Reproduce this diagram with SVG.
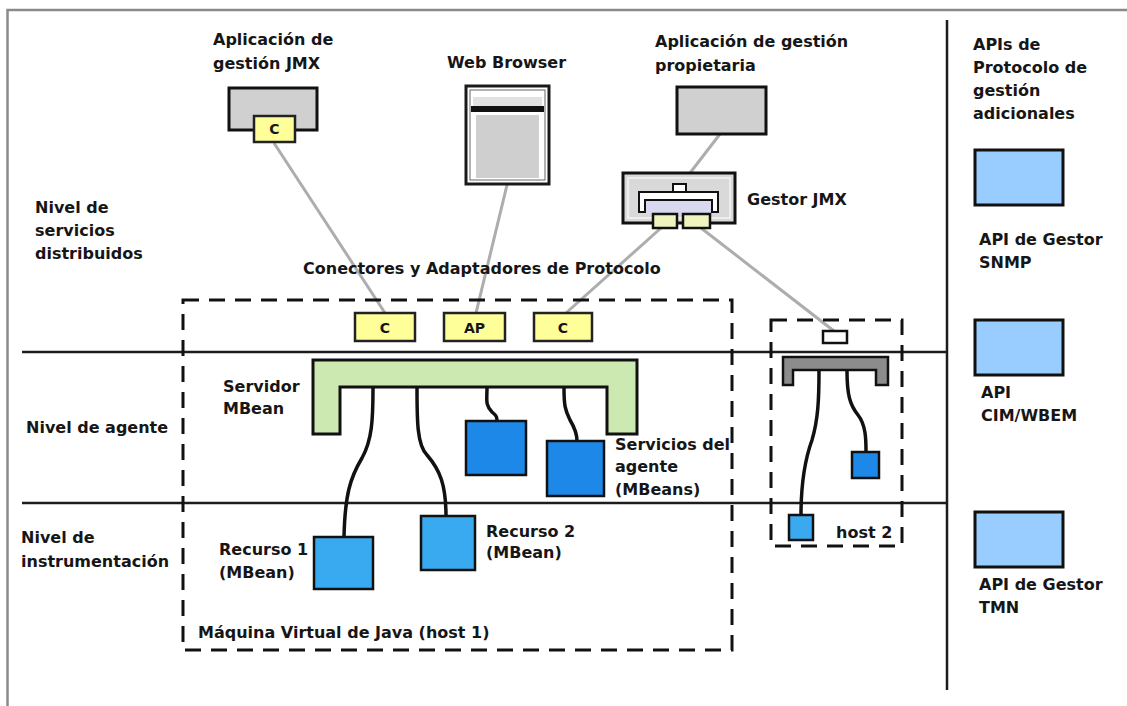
<svg xmlns="http://www.w3.org/2000/svg" width="1127" height="706" viewBox="0 0 1127 706">
  <style>
    text { font-family: "DejaVu Sans", "Liberation Sans", sans-serif; font-weight: bold; font-size: 16px; fill: #161616; }
    .frame { stroke: #8a8a8a; stroke-width: 2.5; fill: none; }
    .level { stroke: #1c1c1c; stroke-width: 2.5; fill: none; }
    .host { stroke: #111; stroke-width: 3; fill: none; stroke-dasharray: 16 10; }
    .app { fill: #d0d0d0; stroke: #111; stroke-width: 3; }
    .conn { fill: #ffff99; stroke: #222; stroke-width: 2.5; }
    .svc { fill: #1e88e8; stroke: #111; stroke-width: 2.5; }
    .res { fill: #3aaaf0; stroke: #111; stroke-width: 2.5; }
    .api { fill: #99ccff; stroke: #111; stroke-width: 3; }
    .link { stroke: #adadad; stroke-width: 3; fill: none; }
    .wire { stroke: #111; stroke-width: 3.5; fill: none; stroke-linecap: round; }
    .boxlabel { font-size: 14px; text-anchor: middle; }
  </style>

  <!-- page frame -->
  <path class="frame" d="M7.5,706 V10 H1127"/>

  <!-- level separators and API column divider -->
  <g id="levels">
    <line class="level" x1="22" y1="352" x2="947" y2="352"/>
    <line class="level" x1="22" y1="503" x2="947" y2="503"/>
    <line class="level" x1="947" y1="20" x2="947" y2="690"/>
    <text x="35" y="213">Nivel de</text>
    <text x="35" y="236">servicios</text>
    <text x="35" y="259">distribuidos</text>
    <text x="26" y="433">Nivel de agente</text>
    <text x="21" y="543">Nivel de</text>
    <text x="21" y="567">instrumentación</text>
  </g>

  <!-- connectors -->
  <g id="connectors">
    <path class="link" d="M274,143 L385,313"/>
    <path class="link" d="M507,185 L476,313"/>
    <path class="link" d="M720,134 L690,173"/>
    <path class="link" d="M661,228 L566,313"/>
    <path class="link" d="M701,228 L834,331"/>
    <path class="wire" d="M373,388 C373,420 372,440 362,458 C350,478 345,495 344,537"/>
    <path class="wire" d="M417,388 C417,420 417,445 427,455 C440,470 446,485 446,516"/>
    <path class="wire" d="M487,388 C487,400 485,405 492,412 C497,416 497,418 497,421"/>
    <path class="wire" d="M564,388 C564,405 565,410 570,420 C576,430 577,436 577,441"/>
    <path class="wire" d="M819,371 C819,400 818,420 812,440 C803,465 801,490 801,515"/>
    <path class="wire" d="M847,371 C847,395 850,405 858,415 C866,425 866,440 866,452"/>
  </g>

  <!-- JMX management application -->
  <g id="jmx-app">
    <text x="213" y="45">Aplicación de</text>
    <text x="213" y="69">gestión JMX</text>
    <rect class="app" x="229" y="88" width="88" height="42"/>
    <rect class="conn" x="254" y="116" width="41" height="26"/>
    <text class="boxlabel" x="274.5" y="134">C</text>
  </g>

  <!-- web browser -->
  <g id="web-browser">
    <text x="447" y="68">Web Browser</text>
    <rect x="466" y="86" width="83" height="98" fill="#fff" stroke="#1a1a1a" stroke-width="3"/>
    <rect x="470" y="90" width="75" height="90" fill="none" stroke="#666" stroke-width="1"/>
    <rect x="473" y="97" width="69" height="9" fill="#e2e2e2"/>
    <rect x="471" y="106" width="73" height="6" fill="#111"/>
    <rect x="476" y="115" width="63" height="63" fill="#cfcfcf"/>
  </g>

  <!-- proprietary management application -->
  <g id="prop-app">
    <text x="655" y="47">Aplicación de gestión</text>
    <text x="655" y="71">propietaria</text>
    <rect class="app" x="677" y="87" width="89" height="47"/>
  </g>

  <!-- JMX manager -->
  <g id="jmx-manager">
    <rect x="623" y="173" width="112" height="50" fill="#d9d9d9" stroke="#111" stroke-width="3"/>
    <rect x="628" y="178" width="102" height="40" fill="none" stroke="#f4f4f4" stroke-width="1.5"/>
    <rect x="646" y="200" width="65" height="14" fill="#d8d8ee"/>
    <path d="M639,192 H718 V212 H712 V200 H645 V212 H639 Z" fill="#fff" stroke="#111" stroke-width="2"/>
    <rect x="673" y="184" width="13" height="8" fill="#fff" stroke="#111" stroke-width="2"/>
    <rect x="653" y="214" width="24" height="14" fill="#eef3c0" stroke="#111" stroke-width="2.5"/>
    <rect x="683" y="214" width="27" height="14" fill="#eef3c0" stroke="#111" stroke-width="2.5"/>
    <text x="747" y="205">Gestor JMX</text>
  </g>

  <!-- host 1: Java virtual machine -->
  <g id="host1">
    <rect class="host" x="183" y="300" width="549" height="350"/>
    <text x="303" y="274">Conectores y Adaptadores de Protocolo</text>
    <text x="198" y="638">Máquina Virtual de Java (host 1)</text>
  </g>

  <g id="connector-c1">
    <rect class="conn" x="355" y="313" width="60" height="28"/>
    <text class="boxlabel" x="385" y="333">C</text>
  </g>
  <g id="adaptor-ap">
    <rect class="conn" x="444" y="313" width="61" height="28"/>
    <text class="boxlabel" x="474.5" y="333">AP</text>
  </g>
  <g id="connector-c2">
    <rect class="conn" x="534" y="313" width="58" height="28"/>
    <text class="boxlabel" x="563" y="333">C</text>
  </g>

  <g id="mbean-server">
    <path d="M313,360 H637 V434 H607 V387 H340 V434 H313 Z" fill="#cde9b2" stroke="#111" stroke-width="3"/>
    <text x="223" y="392">Servidor</text>
    <text x="223" y="414">MBean</text>
  </g>

  <g id="agent-service-1">
    <rect class="svc" x="466" y="421" width="60" height="54"/>
  </g>
  <g id="agent-service-2">
    <rect class="svc" x="547" y="441" width="57" height="55"/>
    <text x="615" y="450">Servicios del</text>
    <text x="615" y="472">agente</text>
    <text x="615" y="495">(MBeans)</text>
  </g>

  <g id="resource-1">
    <rect class="res" x="314" y="537" width="59" height="52"/>
    <text x="219" y="555">Recurso 1</text>
    <text x="219" y="578">(MBean)</text>
  </g>
  <g id="resource-2">
    <rect class="res" x="421" y="516" width="54" height="54"/>
    <text x="486" y="537">Recurso 2</text>
    <text x="486" y="558">(MBean)</text>
  </g>

  <!-- host 2 -->
  <g id="host2">
    <rect class="host" x="771" y="320" width="131" height="226"/>
    <rect x="823" y="331" width="24" height="12" fill="#fff" stroke="#111" stroke-width="2.5"/>
    <path d="M783,357 H888 V385 H876 V370 H793 V385 H783 Z" fill="#8c8c8c" stroke="#111" stroke-width="2.5"/>
    <rect class="svc" x="852" y="452" width="27" height="26"/>
    <rect class="res" x="789" y="515" width="24" height="25"/>
    <text x="836" y="538">host 2</text>
  </g>

  <!-- additional management protocol APIs -->
  <g id="api-column">
    <text x="973" y="50">APIs de</text>
    <text x="973" y="73">Protocolo de</text>
    <text x="973" y="96">gestión</text>
    <text x="973" y="119">adicionales</text>
  </g>
  <g id="api-snmp">
    <rect class="api" x="975" y="150" width="88" height="55"/>
    <text x="979" y="245">API de Gestor</text>
    <text x="979" y="268">SNMP</text>
  </g>
  <g id="api-cim">
    <rect class="api" x="975" y="320" width="88" height="55"/>
    <text x="981" y="398">API</text>
    <text x="981" y="421">CIM/WBEM</text>
  </g>
  <g id="api-tmn">
    <rect class="api" x="975" y="512" width="88" height="55"/>
    <text x="979" y="590">API de Gestor</text>
    <text x="979" y="613">TMN</text>
  </g>
</svg>
